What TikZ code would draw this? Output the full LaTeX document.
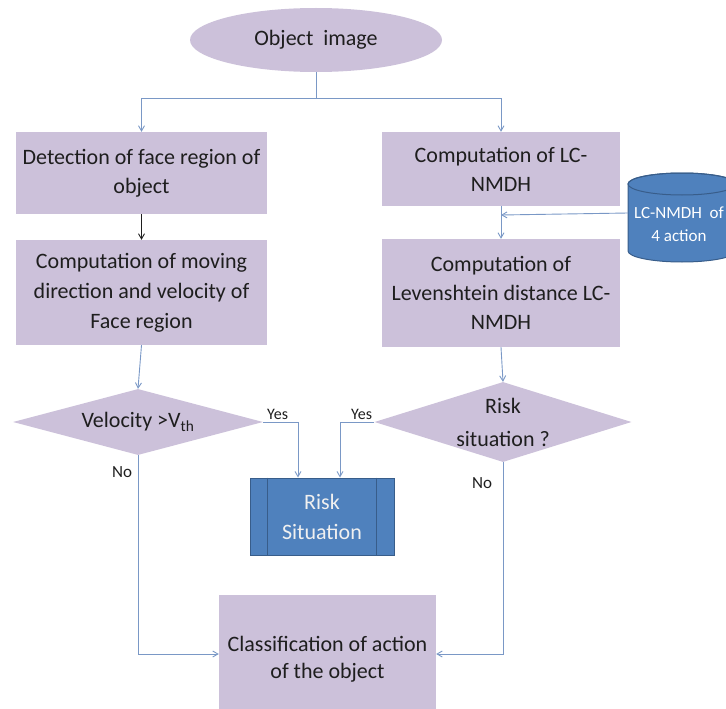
\documentclass[tikz,border=0pt]{standalone}
\usepackage{fontspec}
\setmainfont{Carlito}
\usetikzlibrary{shapes.geometric,arrows.meta}

\definecolor{lilac}{RGB}{204,193,218}
\definecolor{riskblue}{RGB}{79,129,189}
\definecolor{riskedge}{RGB}{56,93,138}
\definecolor{flowline}{RGB}{122,152,198}
\definecolor{txt}{RGB}{30,30,30}

\tikzset{
    stepbox/.style={rectangle, fill=lilac, text=txt, align=center, inner sep=0pt,
        font=\fontsize{22}{29}\selectfont},
    decision/.style={diamond, fill=lilac, text=txt, align=center, inner sep=0pt},
    flow/.style={draw=flowline, line width=0.9pt, -{Straight Barb[angle=60:6pt]}},
    plain/.style={draw=flowline, line width=0.9pt},
    answer/.style={text=txt, inner sep=0pt, font=\fontsize{16}{18}\selectfont}
}

\begin{document}
\begin{tikzpicture}[x=1pt,y=-1pt]
    \useasboundingbox (0,0) rectangle (726,709);

    \node[ellipse, fill=lilac, text=txt, minimum width=252pt, minimum height=64pt,
        font=\fontsize{22}{26}\selectfont] (obj) at (316,40) {Object\ \ image};

    % left column
    \node[stepbox, minimum width=251pt, minimum height=82pt] (det) at (141.5,173) {Detection of face region of\\object};
    \node[stepbox, minimum width=251pt, minimum height=105pt, font=\fontsize{22}{30}\selectfont] (mov) at (141.5,292.5) {Computation of moving\\direction and velocity of\\Face region};
    \node[decision, aspect=3.79, minimum width=250pt, minimum height=66pt,
        font=\fontsize{22}{26}\selectfont] (vel) at (138,422) {Velocity >V\textsubscript{th}};

    % right column
    \node[stepbox, minimum width=238pt, minimum height=74pt] (lc) at (501,169) {Computation of LC-\\NMDH};
    \node[stepbox, minimum width=238pt, minimum height=108pt] (lev) at (501,293) {Computation of\\Levenshtein distance LC-\\NMDH};
    \node[decision, aspect=3.2, minimum width=257pt, minimum height=80pt,
        font=\fontsize{22}{33}\selectfont] (rsk) at (503,422) {Risk\\situation ?};

    % database
    \filldraw[fill=riskblue, draw=riskedge, line width=1pt] (628,184) -- (628,251) arc (180:360:54pt and 11pt)
        -- (736,184) arc (0:180:54pt and 11pt) -- cycle;
    \draw[riskedge, line width=1pt] (682,184) ellipse (54pt and 11pt);
    \node[text=white, align=center, font=\fontsize{17}{23}\selectfont] (db) at (679,224) {LC-NMDH\ \ of\\4 action};

    % risk situation
    \node[rectangle, fill=riskblue, draw=riskedge, line width=1pt, minimum width=144pt, minimum height=77pt,
        text=white!94!black, align=center, font=\fontsize{22}{30}\selectfont] (risk) at (322,516.5) {Risk\\Situation};
    \draw[riskedge, line width=1pt] ([xshift=18pt]risk.north west) -- ([xshift=18pt]risk.south west);
    \draw[riskedge, line width=1pt] ([xshift=-18pt]risk.north east) -- ([xshift=-18pt]risk.south east);

    \node[stepbox, minimum width=217pt, minimum height=128pt, font=\fontsize{22}{27}\selectfont] (cls) at (327.5,659) {Classification of action\\of the object};

    % connectors
    \coordinate (split) at (316,98);
    \coordinate (join) at (501,215);
    \coordinate (dbside) at (628,213);
    \draw[plain] (obj.south) -- (split);
    \draw[flow] (split) -| (det.north);
    \draw[flow] (split) -| (lc.north);
    \draw[flow, draw=txt] (det.south) -- (mov.north);
    \draw[flow] (mov.south) -- (vel.north);
    \draw[flow] (lc.south) -- (lev.north);
    \draw[flow] (dbside) -- (join);
    \draw[flow] (lev.south) -- (rsk.north);
    \draw[flow] (vel.east) -| ([xshift=-24pt]risk.north);
    \draw[flow] (rsk.west) -| ([xshift=18pt]risk.north);
    \draw[flow] (vel.south) |- ([yshift=5pt]cls.west);
    \draw[flow] (rsk.south) |- ([yshift=5pt]cls.east);

    \node[answer, anchor=south west] (yesl) at (267,420) {Yes};
    \node[answer, anchor=south west] (yesr) at (351,420) {Yes};
    \node[answer, font=\fontsize{17}{19}\selectfont] (nol) at (122,472) {No};
    \node[answer, font=\fontsize{17}{19}\selectfont] (nor) at (482,483) {No};
\end{tikzpicture}
\end{document}
